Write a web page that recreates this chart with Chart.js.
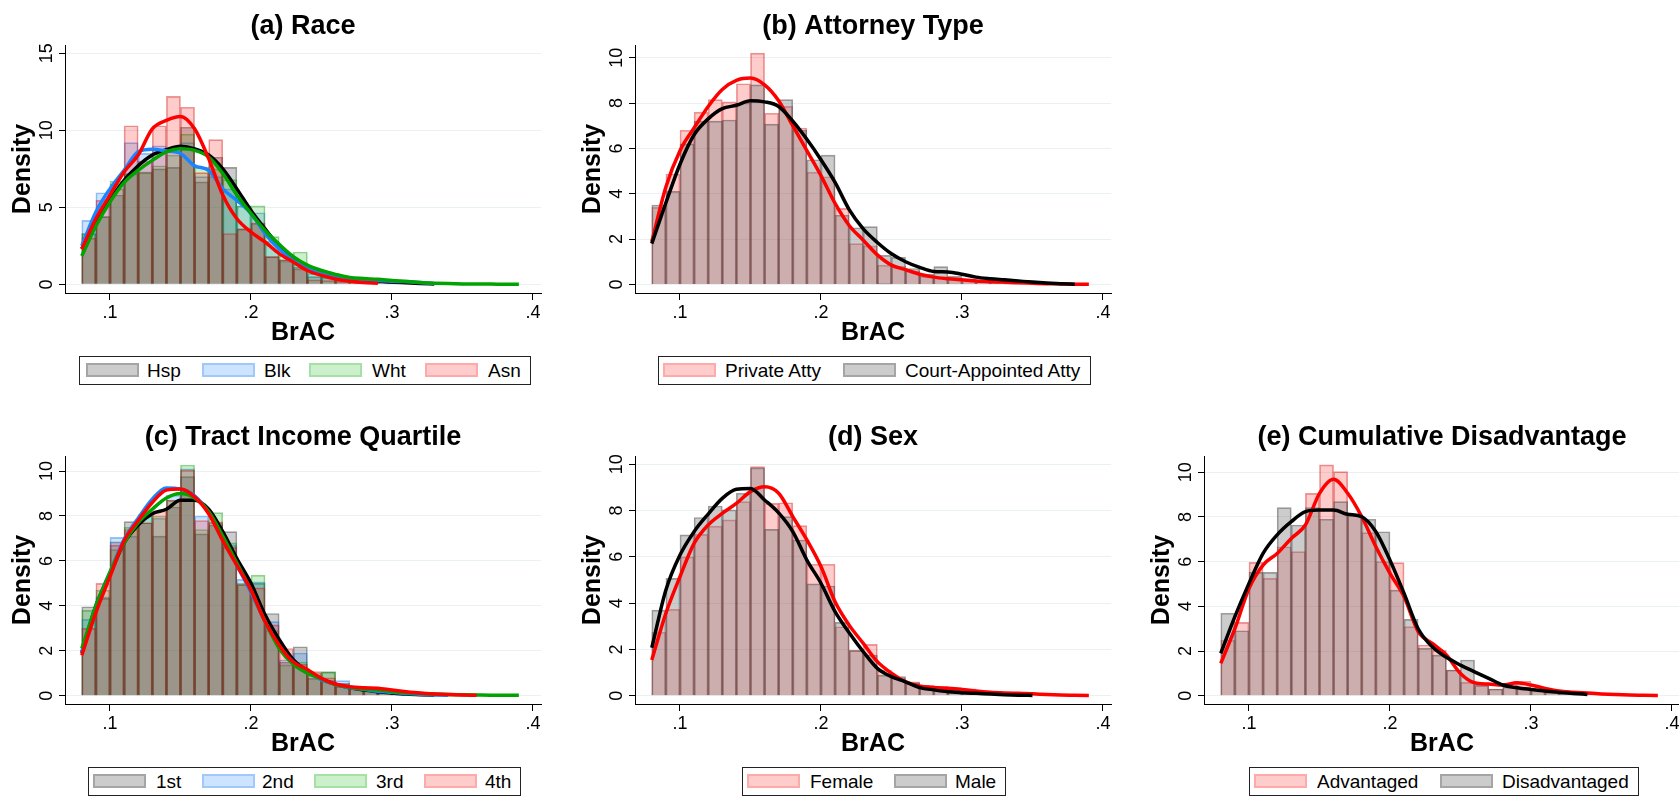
<!DOCTYPE html>
<html>
<head>
<meta charset="utf-8">
<script src="https://cdn.jsdelivr.net/npm/chart.js@4.4.1/dist/chart.umd.min.js"></script>
<style>
    body { margin: 0; width: 1679px; height: 796px; overflow: hidden; background: #fff; position: relative;
           font-family: 'Liberation Sans', Arial, Helvetica, sans-serif; }
    canvas { position: absolute; }
    .legend { position: absolute; height: 29px; border: 1px solid #222; box-sizing: border-box; background: #fff; }
    .sw { position: absolute; top: 6px; width: 53px; height: 14px; box-sizing: border-box; border: 2px solid; }
    .lt { position: absolute; top: 0; font-size: 19px; line-height: 28px; color: #000; white-space: nowrap; }
</style>
</head>
<body>
<script>
// Bins (0.01 wide, starting at .08) and density grid
const binCenters = [0.085, 0.095, 0.105, 0.115, 0.125, 0.135, 0.145, 0.155, 0.165, 0.175, 0.185, 0.195, 0.205, 0.215, 0.225,
    0.235, 0.245, 0.255, 0.265, 0.275, 0.285, 0.295, 0.305, 0.315, 0.325, 0.335, 0.345, 0.355, 0.365, 0.375, 0.385];
const densX = [0.08, 0.09, 0.10, 0.11, 0.12, 0.13, 0.14, 0.15, 0.16, 0.17, 0.18, 0.19, 0.20, 0.21, 0.22, 0.23,
    0.24, 0.25, 0.26, 0.27, 0.28, 0.29, 0.30, 0.31, 0.32, 0.33, 0.34, 0.35, 0.36, 0.37, 0.38, 0.39];

const xTickValues = [0.1, 0.2, 0.3, 0.4];
const xTickLabels = ['.1', '.2', '.3', '.4'];
const yTicksRace = [0, 5, 10, 15];
const yTicksOther = [0, 2, 4, 6, 8, 10];

// (a) Race
const raceLabels = ['Hsp', 'Blk', 'Wht', 'Asn'];
const histHsp = [3.3, 4.4, 5.8, 7.2, 7.25, 7.5, 7.6, 10.2, 6.65, 8.25, 7.6, 3.6, 3.95, 1.8, 1.6, 1.1, 0.5, 0.45, 0.35, 0.3, 0.2, 0.15, 0.1, 0.08, 0.05, 0.03];
const histBlk = [4.15, 5.95, 6.5, 9.2, 8.5, 9.0, 8.6, 9.2, 7.0, 7.0, 6.2, 5.1, 4.65, 2.8, 1.5, 1.3, 0.7, 0.5, 0.35, 0.3, 0.25, 0.2, 0.18, 0.12, 0.06, 0.03];
const histWht = [3.3, 4.4, 6.7, 7.2, 7.3, 7.7, 8.4, 9.75, 7.6, 7.5, 6.8, 5.1, 5.1, 3.1, 2.0, 2.1, 0.8, 0.6, 0.45, 0.4, 0.35, 0.3, 0.25, 0.2, 0.12, 0.08, 0.06, 0.04, 0.03, 0.02, 0.02];
const histAsn = [3.0, 5.45, 6.2, 10.3, 8.0, 10.3, 12.2, 11.5, 7.25, 9.4, 3.3, 3.6, 4.0, 1.8, 1.6, 1.0, 0.3, 0.25, 0.2, 0.15, 0.1, 0.05];
const densHsp = [2.3, 4.0, 5.45, 6.75, 7.7, 8.4, 8.75, 8.96, 8.8, 8.4, 7.5, 6.2, 4.8, 3.6, 2.5, 1.75, 1.2, 0.85, 0.6, 0.4, 0.3, 0.22, 0.15, 0.1, 0.06, 0.03];
const densBlk = [2.5, 4.7, 6.2, 7.4, 8.6, 8.77, 8.66, 8.5, 7.7, 7.4, 6.2, 5.45, 4.6, 3.3, 2.3, 1.56, 1.1, 0.75, 0.5, 0.35, 0.3, 0.25, 0.2, 0.18, 0.12, 0.06];
const densWht = [1.84, 3.8, 5.35, 6.6, 7.4, 8.05, 8.6, 8.8, 8.7, 8.27, 7.2, 5.8, 4.6, 3.5, 2.6, 1.8, 1.25, 0.9, 0.65, 0.45, 0.38, 0.33, 0.25, 0.18, 0.12, 0.08, 0.05, 0.03, 0.02, 0.02, 0.01, 0.01];
const densAsn = [2.3, 4.26, 5.8, 7.3, 8.4, 10.1, 10.65, 10.9, 10.1, 8.16, 5.8, 4.26, 3.4, 2.75, 2.0, 1.45, 0.9, 0.58, 0.35, 0.2, 0.12, 0.08];

// (b) Attorney type
const attyLabels = ['Private Atty', 'Court-Appointed Atty'];
const histPrivate = [3.4, 4.87, 6.8, 7.6, 8.15, 8.05, 8.85, 10.2, 7.55, 7.85, 6.9, 4.95, 4.75, 3.35, 1.8, 1.7, 0.85, 0.8, 0.6, 0.35, 0.3, 0.25, 0.2, 0.15, 0.12, 0.1, 0.08, 0.06, 0.04, 0.03, 0.02];
const histCourt = [3.5, 4.1, 6.2, 7.2, 7.2, 7.25, 8.0, 8.8, 7.07, 8.15, 6.8, 5.5, 5.7, 3.05, 2.5, 2.55, 1.28, 1.19, 0.7, 0.45, 0.78, 0.35, 0.25, 0.2, 0.15, 0.1, 0.08, 0.05, 0.04, 0.03];
const densPrivate = [1.88, 4.3, 5.9, 6.9, 7.85, 8.6, 9.0, 9.1, 8.8, 8.1, 7.0, 5.9, 4.8, 3.57, 2.6, 1.95, 1.3, 0.85, 0.65, 0.45, 0.32, 0.25, 0.2, 0.15, 0.12, 0.1, 0.07, 0.05, 0.03, 0.02, 0.01, 0.01];
const densCourt = [1.8, 3.6, 5.3, 6.6, 7.3, 7.75, 7.9, 8.1, 8.05, 7.85, 7.2, 6.4, 5.5, 4.5, 3.3, 2.45, 1.85, 1.35, 1.0, 0.75, 0.57, 0.55, 0.45, 0.32, 0.25, 0.2, 0.15, 0.1, 0.06, 0.03, 0.01];

// (c) Tract income quartile
const quartLabels = ['1st', '2nd', '3rd', '4th'];
const histQ1 = [3.96, 4.33, 6.85, 7.75, 7.7, 7.1, 8.4, 9.75, 7.2, 7.6, 7.3, 4.95, 5.0, 3.66, 1.5, 2.18, 0.77, 1.05, 0.55, 0.35, 0.3, 0.2, 0.15, 0.1, 0.08, 0.05];
const histQ2 = [3.4, 4.4, 7.05, 7.1, 8.05, 7.9, 8.93, 10.1, 8.0, 7.7, 6.7, 5.18, 5.07, 3.3, 1.6, 1.9, 0.9, 0.7, 0.67, 0.35, 0.25, 0.2, 0.12, 0.08, 0.05, 0.03];
const histQ3 = [3.8, 4.7, 6.5, 7.5, 8.05, 8.0, 8.7, 10.27, 7.4, 8.15, 6.8, 5.0, 5.37, 2.9, 1.37, 1.5, 1.0, 1.07, 0.5, 0.4, 0.3, 0.25, 0.2, 0.15, 0.1, 0.08, 0.05, 0.04, 0.03, 0.02, 0.02];
const histQ4 = [3.0, 5.0, 6.7, 7.4, 7.7, 8.23, 8.7, 10.04, 7.8, 7.74, 6.6, 4.95, 4.8, 3.15, 2.1, 1.4, 1.07, 0.8, 0.4, 0.4, 0.35, 0.3, 0.22, 0.15, 0.1, 0.07, 0.04, 0.02];
const densQ1 = [1.9, 4.0, 5.4, 6.8, 7.6, 8.1, 8.3, 8.7, 8.7, 8.3, 7.3, 6.1, 5.0, 3.6, 2.5, 1.6, 1.1, 0.75, 0.5, 0.35, 0.25, 0.18, 0.12, 0.07, 0.04, 0.02];
const densQ2 = [1.95, 4.0, 5.5, 6.95, 7.9, 8.75, 9.25, 9.2, 8.9, 8.15, 6.95, 5.8, 4.6, 3.3, 2.2, 1.5, 1.1, 0.7, 0.5, 0.35, 0.28, 0.2, 0.15, 0.1, 0.06, 0.03, 0.02];
const densQ3 = [2.1, 4.0, 5.5, 6.8, 7.7, 8.3, 8.8, 9.0, 8.8, 8.2, 7.1, 5.9, 4.7, 3.3, 2.1, 1.4, 1.0, 0.75, 0.5, 0.38, 0.3, 0.25, 0.18, 0.13, 0.1, 0.07, 0.05, 0.04, 0.03, 0.02, 0.02, 0.02];
const densQ4 = [1.8, 3.7, 5.3, 6.9, 7.8, 8.6, 9.15, 9.2, 8.85, 8.1, 6.9, 5.8, 4.7, 3.3, 2.25, 1.5, 1.17, 0.77, 0.52, 0.4, 0.35, 0.33, 0.25, 0.18, 0.12, 0.08, 0.05, 0.03, 0.02];

// (d) Sex
const sexLabels = ['Female', 'Male'];
const histFemale = [2.74, 3.73, 6.0, 6.97, 7.33, 7.6, 8.39, 9.9, 8.31, 8.34, 7.35, 5.68, 5.68, 2.98, 1.97, 2.22, 1.11, 0.75, 0.6, 0.45, 0.4, 0.35, 0.3, 0.2, 0.15, 0.12, 0.08, 0.06, 0.05, 0.03, 0.02];
const histMale = [3.7, 5.07, 6.95, 7.7, 8.2, 8.03, 8.75, 9.85, 7.19, 7.74, 6.73, 4.83, 4.74, 3.17, 1.95, 1.76, 0.89, 0.82, 0.55, 0.35, 0.3, 0.25, 0.2, 0.12, 0.1, 0.06, 0.03];
const densFemale = [1.54, 3.56, 5.14, 6.58, 7.38, 7.88, 8.31, 8.82, 9.03, 8.75, 7.74, 6.73, 5.58, 4.06, 3.05, 2.26, 1.47, 0.97, 0.6, 0.42, 0.35, 0.32, 0.27, 0.2, 0.15, 0.12, 0.1, 0.08, 0.05, 0.03, 0.02, 0.01];
const densMale = [2.07, 4.57, 6.08, 7.09, 7.85, 8.53, 8.92, 8.96, 8.46, 7.9, 7.09, 5.86, 4.86, 3.63, 2.72, 1.9, 1.18, 0.82, 0.6, 0.35, 0.25, 0.17, 0.13, 0.1, 0.07, 0.04, 0.02, 0.01];

// (e) Cumulative disadvantage
const disLabels = ['Advantaged', 'Disadvantaged'];
const histAdv = [2.49, 3.28, 5.97, 5.25, 6.67, 6.45, 9.06, 10.33, 10.03, 8.1, 7.3, 6.0, 5.96, 3.09, 2.27, 2.04, 1.15, 0.6, 0.45, 0.3, 0.55, 0.65, 0.3, 0.2, 0.15, 0.1, 0.08, 0.05, 0.04, 0.03, 0.02];
const histDisadv = [3.69, 2.91, 5.52, 5.52, 8.42, 7.64, 8.42, 7.9, 8.69, 8.09, 7.9, 7.34, 4.73, 3.42, 2.12, 1.82, 1.15, 1.6, 0.48, 0.3, 0.4, 0.35, 0.3, 0.15, 0.1, 0.05];
const densAdv = [1.45, 3.0, 4.8, 5.85, 6.37, 7.04, 7.64, 9.06, 9.69, 9.06, 8.01, 6.67, 5.48, 4.43, 2.87, 2.34, 1.82, 1.0, 0.58, 0.52, 0.48, 0.58, 0.48, 0.33, 0.21, 0.16, 0.12, 0.08, 0.05, 0.03, 0.02, 0.01];
const densDisadv = [1.9, 3.54, 5.03, 6.37, 7.2, 7.79, 8.24, 8.31, 8.31, 8.12, 8.01, 7.34, 6.07, 4.58, 3.0, 2.19, 1.72, 1.37, 1.07, 0.78, 0.48, 0.36, 0.28, 0.21, 0.15, 0.1, 0.06];

// Colours
const GRAY = { fill: 'rgba(128,128,128,0.4)', edge: 'rgba(60,60,60,0.5)', key: 'rgb(165,165,165)', line: '#000000' };
const BLUE = { fill: 'rgba(0,120,255,0.2)', edge: 'rgba(0,100,230,0.4)', key: 'rgb(160,200,250)', line: '#1a85ff' };
const GREEN = { fill: 'rgba(0,180,0,0.2)', edge: 'rgba(0,140,0,0.4)', key: 'rgb(165,225,165)', line: '#00a300' };
const RED = { fill: 'rgba(255,0,0,0.2)', edge: 'rgba(200,0,0,0.4)', key: 'rgb(255,170,170)', line: '#ff0000' };

Chart.defaults.font.family = "'Liberation Sans', Arial, Helvetica, sans-serif";
Chart.defaults.color = '#000';

const X_MIN = 0.0681, X_MAX = 0.4057;

function barSet(label, values, col, order) {
    return {
        type: 'bar', label: label, order: order,
        data: values.map((v, i) => ({ x: binCenters[i], y: v })),
        backgroundColor: col.fill, borderColor: col.edge, borderWidth: 1,
        barPercentage: 1, categoryPercentage: 1, grouped: false
    };
}

function lineSet(label, values, col, order) {
    return {
        type: 'line', label: label, order: order,
        data: values.map((v, i) => ({ x: densX[i], y: v })),
        borderColor: col.line, borderWidth: 3.5, pointRadius: 0, fill: false,
        cubicInterpolationMode: 'monotone'
    };
}

function renderPanel(p) {
    const canvas = document.createElement('canvas');
    canvas.width = 547;
    canvas.height = 348;
    canvas.style.left = p.left + 'px';
    canvas.style.top = p.top + 'px';
    document.body.appendChild(canvas);

    const datasets = [];
    p.labels.forEach((lab, i) => {
        datasets.push(barSet(lab, p.hists[i], p.colors[i], 20 - i));
        datasets.push(lineSet(lab, p.dens[i], p.colors[i], 10 - i));
    });

    new Chart(canvas, {
        type: 'bar',
        data: { datasets: datasets },
        options: {
            responsive: false,
            animation: false,
            events: [],
            layout: { padding: { left: 0, right: 6, top: 0, bottom: 0 } },
            plugins: {
                legend: { display: false },
                tooltip: { enabled: false },
                title: {
                    display: true, text: p.title, fullSize: false, color: '#000',
                    font: { size: 27, weight: 'bold', lineHeight: 1.2 },
                    padding: { top: 10.8, bottom: 1.8 }
                }
            },
            scales: {
                x: {
                    type: 'linear', min: X_MIN, max: X_MAX, offset: false,
                    afterBuildTicks: s => { s.ticks = xTickValues.map(v => ({ value: v })); },
                    afterFit: s => { s.height = 55; },
                    ticks: { callback: (v, i) => xTickLabels[i], color: '#000', font: { size: 18 }, padding: 2, maxRotation: 0, autoSkip: false },
                    grid: { drawOnChartArea: false, offset: false, tickLength: 7, tickColor: '#000' },
                    border: { color: '#000', width: 1 },
                    title: { display: true, text: 'BrAC', color: '#000', font: { size: 25, weight: 'bold', lineHeight: 1.2 }, padding: 0 }
                },
                y: {
                    type: 'linear', min: p.yMin, max: p.yMax,
                    afterBuildTicks: s => { s.ticks = p.yTicks.map(v => ({ value: v })); },
                    afterFit: s => { s.width = 65; },
                    ticks: { color: '#000', font: { size: 18 }, padding: 2, minRotation: 90, maxRotation: 90, crossAlign: 'center', autoSkip: false },
                    grid: { color: '#e9f1f2', lineWidth: 1, tickLength: 6, tickColor: '#000' },
                    border: { color: '#000', width: 1 },
                    title: { display: true, text: 'Density', color: '#000', font: { size: 25, weight: 'bold', lineHeight: 1.2 }, padding: { top: 8, bottom: 0 } }
                }
            }
        }
    });

    // Legend box under the panel
    const box = document.createElement('div');
    box.className = 'legend';
    box.style.left = p.legend.left + 'px';
    box.style.top = p.legend.top + 'px';
    box.style.width = p.legend.width + 'px';
    p.labels.forEach((lab, i) => {
        const [swX, txX] = p.legend.items[i];
        const sw = document.createElement('div');
        sw.className = 'sw';
        sw.style.left = (swX - p.legend.left - 1) + 'px';
        sw.style.background = p.colors[i].fill;
        sw.style.borderColor = p.colors[i].key;
        const tx = document.createElement('div');
        tx.className = 'lt';
        tx.style.left = (txX - p.legend.left - 1) + 'px';
        tx.textContent = lab;
        box.appendChild(sw);
        box.appendChild(tx);
    });
    document.body.appendChild(box);
}

renderPanel({
    title: '(a) Race', left: 0, top: 0, yMin: -0.56, yMax: 15.54, yTicks: yTicksRace,
    labels: raceLabels, hists: [histHsp, histBlk, histWht, histAsn], dens: [densHsp, densBlk, densWht, densAsn],
    colors: [GRAY, BLUE, GREEN, RED],
    legend: { left: 79, top: 356, width: 452, items: [[86, 147], [202, 264], [309, 372], [425, 488]] }
});
renderPanel({
    title: '(b) Attorney Type', left: 570, top: 0, yMin: -0.38, yMax: 10.56, yTicks: yTicksOther,
    labels: attyLabels, hists: [histPrivate, histCourt], dens: [densPrivate, densCourt],
    colors: [RED, GRAY],
    legend: { left: 658, top: 356, width: 433, items: [[663, 725], [843, 905]] }
});
renderPanel({
    title: '(c) Tract Income Quartile', left: 0, top: 411, yMin: -0.37, yMax: 10.67, yTicks: yTicksOther,
    labels: quartLabels, hists: [histQ1, histQ2, histQ3, histQ4], dens: [densQ1, densQ2, densQ3, densQ4],
    colors: [GRAY, BLUE, GREEN, RED],
    legend: { left: 88, top: 767, width: 433, items: [[93, 156], [202, 262], [314, 376], [424, 485]] }
});
renderPanel({
    title: '(d) Sex', left: 570, top: 411, yMin: -0.36, yMax: 10.36, yTicks: yTicksOther,
    labels: sexLabels, hists: [histFemale, histMale], dens: [densFemale, densMale],
    colors: [RED, GRAY],
    legend: { left: 742, top: 767, width: 264, items: [[747, 810], [894, 955]] }
});
renderPanel({
    title: '(e) Cumulative Disadvantage', left: 1139, top: 411, yMin: -0.37, yMax: 10.73, yTicks: yTicksOther,
    labels: disLabels, hists: [histAdv, histDisadv], dens: [densAdv, densDisadv],
    colors: [RED, GRAY],
    legend: { left: 1249, top: 767, width: 390, items: [[1254, 1317], [1440, 1502]] }
});
</script>
</body>
</html>
